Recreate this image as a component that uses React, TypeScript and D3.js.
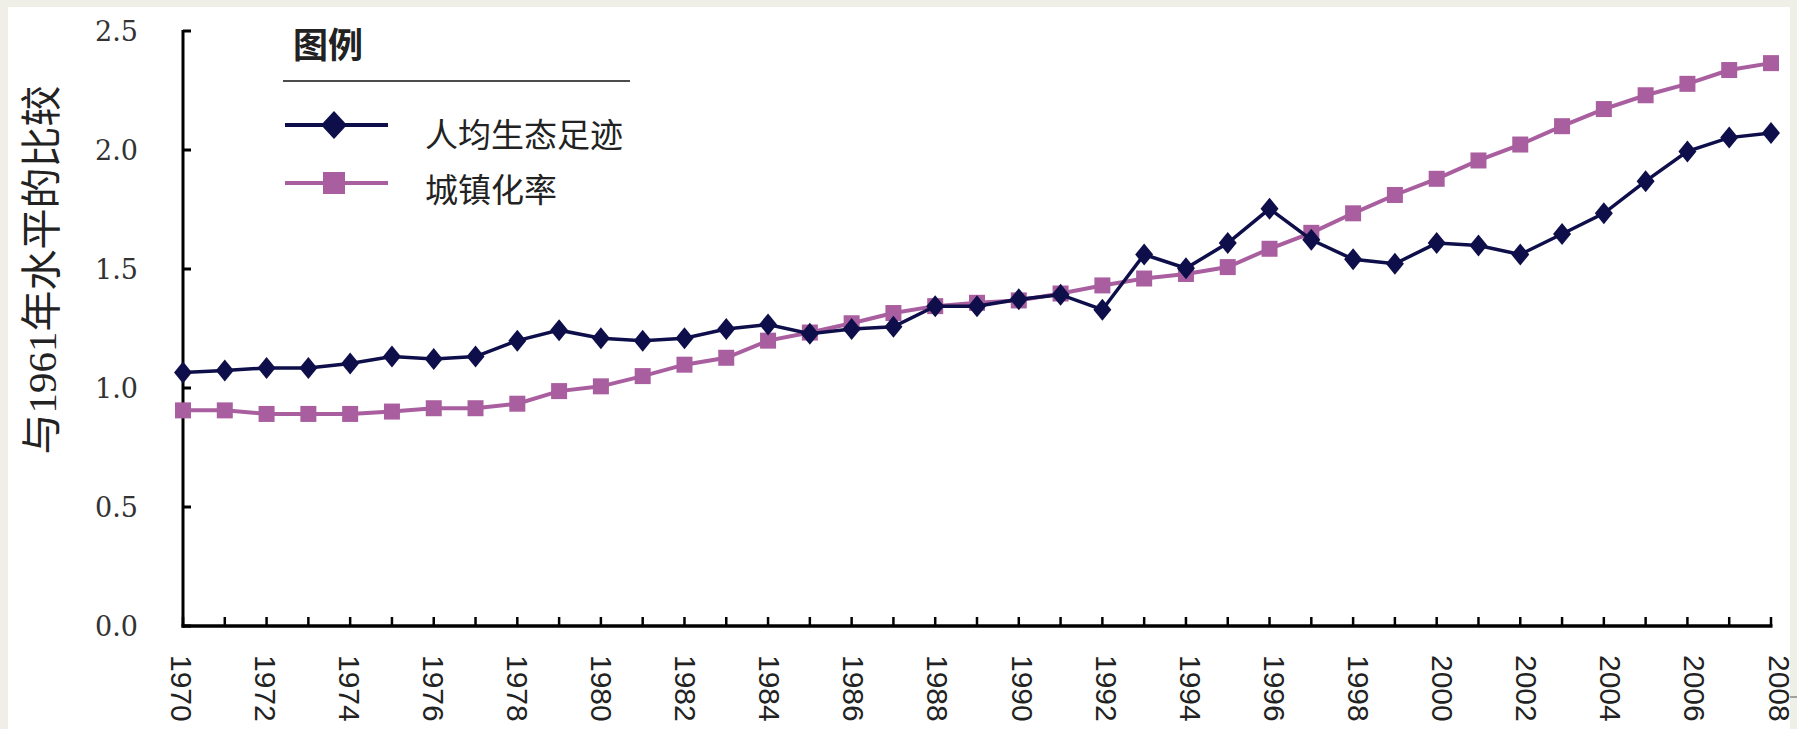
import * as d3 from "d3";

const years = [
  1970, 1971, 1972, 1973, 1974, 1975, 1976, 1977, 1978, 1979,
  1980, 1981, 1982, 1983, 1984, 1985, 1986, 1987, 1988, 1989,
  1990, 1991, 1992, 1993, 1994, 1995, 1996, 1997, 1998, 1999,
  2000, 2001, 2002, 2003, 2004, 2005, 2006, 2007, 2008,
];

// 人均生态足迹
const footprint = [
  1.065, 1.074, 1.084, 1.084, 1.103, 1.132, 1.122, 1.132, 1.199, 1.243,
  1.209, 1.199, 1.209, 1.248, 1.267, 1.228, 1.248, 1.257, 1.344, 1.344,
  1.373, 1.392, 1.329, 1.561, 1.503, 1.609, 1.753, 1.623, 1.541, 1.522,
  1.609, 1.599, 1.561, 1.647, 1.734, 1.869, 1.994, 2.052, 2.071,
];

// 城镇化率
const urbanization = [
  0.906, 0.906, 0.891, 0.891, 0.891, 0.901, 0.915, 0.915, 0.934, 0.987,
  1.007, 1.05, 1.098, 1.127, 1.199, 1.233, 1.272, 1.315, 1.344, 1.358,
  1.368, 1.397, 1.431, 1.46, 1.479, 1.508, 1.585, 1.652, 1.734, 1.811,
  1.879, 1.956, 2.023, 2.1, 2.172, 2.23, 2.278, 2.336, 2.365,
];

const yTicks = [0, 0.5, 1.0, 1.5, 2.0, 2.5];
const xLabels = [1970, 1972, 1974, 1976, 1978, 1980, 1982, 1984, 1986, 1988, 1990,
  1992, 1994, 1996, 1998, 2000, 2002, 2004, 2006, 2008];

const seriesNames = ["人均生态足迹", "城镇化率"];
const yTitle = "与1961年水平的比较";
const legendTitle = "图例";

const NAVY = "#0e0e4a";
const PINK = "#a95f9f";

const W = 1797, H = 729;

const diamond = (cx: number, cy: number, w: number, h: number) =>
  `M${cx},${cy - h}L${cx + w},${cy}L${cx},${cy + h}L${cx - w},${cy}Z`;

export default function App() {
  const x = d3.scaleLinear().domain([1970, 2008]).range([183, 1771]);
  const xLab = d3.scaleLinear().domain([1970, 2008]).range([181, 1779]);
  const y = d3.scaleLinear().domain([0, 2.5]).range([626, 31]);

  const line = d3.line<number>()
    .x((_, i) => x(years[i]))
    .y((d) => y(d));

  return (
    <div style={{ position: "fixed", left: 0, top: 0, width: W, height: H, background: "#efefe7" }}>
      <svg width={W} height={H} style={{ display: "block" }}>
        <rect x={8} y={7} width={1782} height={H} fill="#ffffff" />
        <line x1={1790} x2={1797} y1={697} y2={697} stroke="#555" strokeWidth={1} />

        {/* y title */}
        <text
          transform={`translate(42,270) rotate(-90)`}
          textAnchor="middle"
          dominantBaseline="central"
          fontSize={41}
          fontFamily="'Liberation Serif', 'Noto Sans CJK SC', serif"
          fill="#222"
        >
          {yTitle}
        </text>

        {/* y axis */}
        <line x1={x(1970)} x2={x(1970)} y1={y(2.5) - 1} y2={y(0) + 1.5} stroke="#000" strokeWidth={3} />
        {yTicks.map((t) => (
          <g key={t}>
            <line x1={x(1970)} x2={x(1970) + 8} y1={y(t)} y2={y(t)} stroke="#000" strokeWidth={3} />
            <text
              x={138}
              y={y(t)}
              textAnchor="end"
              dominantBaseline="central"
              fontSize={27}
              fontFamily="'DejaVu Serif', serif"
              fill="#333"
            >
              {t.toFixed(1)}
            </text>
          </g>
        ))}

        {/* x axis */}
        <line x1={x(1970) - 1.5} x2={x(2008) + 1.5} y1={y(0)} y2={y(0)} stroke="#000" strokeWidth={3.5} />
        {years.map((yr) => (
          <line key={yr} x1={x(yr)} x2={x(yr)} y1={y(0)} y2={y(0) - 9} stroke="#000" strokeWidth={2.5} />
        ))}
        {xLabels.map((yr) => (
          <text
            key={yr}
            transform={`translate(${xLab(yr)},655) rotate(90)`}
            dy="0.35em"
            fontSize={30}
            fontFamily="'Liberation Sans', sans-serif"
            fill="#222"
          >
            {yr}
          </text>
        ))}

        {/* series */}
        <path d={line(urbanization) ?? ""} fill="none" stroke={PINK} strokeWidth={4} />
        {urbanization.map((v, i) => (
          <rect key={i} x={x(years[i]) - 8} y={y(v) - 8} width={16} height={16} fill={PINK} />
        ))}
        <path d={line(footprint) ?? ""} fill="none" stroke={NAVY} strokeWidth={3.5} />
        {footprint.map((v, i) => (
          <path key={i} d={diamond(x(years[i]), y(v), 9, 11)} fill={NAVY} />
        ))}

        {/* legend */}
        <text x={293} y={58} fontSize={35} fontFamily="'Noto Sans CJK SC', sans-serif" fontWeight={600} fill="#222">
          {legendTitle}
        </text>
        <line x1={283} x2={630} y1={81} y2={81} stroke="#111" strokeWidth={1.5} />
        <line x1={285} x2={388} y1={125} y2={125} stroke={NAVY} strokeWidth={4} />
        <path d={diamond(334, 125, 13, 14)} fill={NAVY} />
        <text x={425} y={133} dominantBaseline="central" fontSize={33} fontFamily="'Noto Sans CJK SC', sans-serif" fill="#222">
          {seriesNames[0]}
        </text>
        <line x1={285} x2={388} y1={183} y2={183} stroke={PINK} strokeWidth={4} />
        <rect x={323} y={172} width={22} height={22} fill={PINK} />
        <text x={425} y={188} dominantBaseline="central" fontSize={33} fontFamily="'Noto Sans CJK SC', sans-serif" fill="#222">
          {seriesNames[1]}
        </text>
      </svg>
    </div>
  );
}
